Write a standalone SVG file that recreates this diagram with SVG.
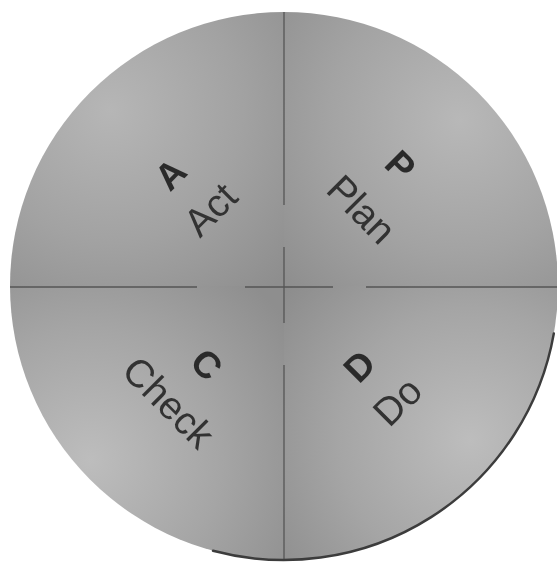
<svg xmlns="http://www.w3.org/2000/svg" width="557" height="565" viewBox="0 0 557 565">
  <defs>
    <radialGradient id="gTL" gradientUnits="userSpaceOnUse" cx="110" cy="110" r="240">
      <stop offset="0" stop-color="#b6b6b6"/>
      <stop offset="0.55" stop-color="#a2a2a2"/>
      <stop offset="1" stop-color="#8e8e8e"/>
    </radialGradient>
    <radialGradient id="gTR" gradientUnits="userSpaceOnUse" cx="460" cy="120" r="240">
      <stop offset="0" stop-color="#b8b8b8"/>
      <stop offset="0.55" stop-color="#a3a3a3"/>
      <stop offset="1" stop-color="#8e8e8e"/>
    </radialGradient>
    <radialGradient id="gBL" gradientUnits="userSpaceOnUse" cx="90" cy="460" r="240">
      <stop offset="0" stop-color="#bdbdbd"/>
      <stop offset="0.55" stop-color="#a5a5a5"/>
      <stop offset="1" stop-color="#8e8e8e"/>
    </radialGradient>
    <radialGradient id="gBR" gradientUnits="userSpaceOnUse" cx="470" cy="440" r="240">
      <stop offset="0" stop-color="#bdbdbd"/>
      <stop offset="0.55" stop-color="#a5a5a5"/>
      <stop offset="1" stop-color="#8c8c8c"/>
    </radialGradient>
    <filter id="soft" x="-5%" y="-5%" width="110%" height="110%">
      <feGaussianBlur stdDeviation="0.6"/>
    </filter>
  </defs>
  <style>
    .div { stroke: #555555; stroke-width: 1.3; fill: none; }
    .rim { stroke: #3c3c3c; stroke-width: 2.5; fill: none; stroke-linecap: round; }
    .big { font-family: "Liberation Sans", Arial, sans-serif; font-weight: bold; font-size: 37px; fill: #2c2c2c; text-anchor: middle; }
    .word { font-family: "Liberation Sans", Arial, sans-serif; font-size: 39px; fill: #333333; text-anchor: middle; }
  </style>
  <rect width="557" height="565" fill="#ffffff"/>

  <g id="quadrant-act">
    <path d="M284 286 L10 286 A274 274 0 0 1 284 12 Z" fill="url(#gTL)"/>
  </g>
  <g id="quadrant-plan">
    <path d="M284 286 L284 12 A274 274 0 0 1 558 286 Z" fill="url(#gTR)"/>
  </g>
  <g id="quadrant-do">
    <path d="M284 286 L558 286 A274 274 0 0 1 284 560 Z" fill="url(#gBR)"/>
  </g>
  <g id="quadrant-check">
    <path d="M284 286 L284 560 A274 274 0 0 1 10 286 Z" fill="url(#gBL)"/>
  </g>

  <g id="dividers">
    <line class="div" x1="10" y1="287" x2="197" y2="287"/>
    <line class="div" x1="245" y1="287" x2="333" y2="287"/>
    <line class="div" x1="366" y1="287" x2="558" y2="287"/>
    <line class="div" x1="284" y1="12" x2="284" y2="205"/>
    <line class="div" x1="284" y1="247" x2="284" y2="323"/>
    <line class="div" x1="284" y1="365" x2="284" y2="560"/>
  </g>

  <g id="rim">
    <path class="rim" d="M553.8 333.6 A274 274 0 0 1 213 550.7"/>
  </g>

  <g id="labels" filter="url(#soft)">
    <g id="act">
      <text class="big" transform="translate(170,174) rotate(-45)" dy="0.36em">A</text>
      <text class="word" transform="translate(210,209) rotate(-45)" dy="0.36em">Act</text>
    </g>
    <g id="plan">
      <text class="big" transform="translate(401,165) rotate(45)" dy="0.36em">P</text>
      <text class="word" transform="translate(362,209) rotate(45)" dy="0.36em">Plan</text>
    </g>
    <g id="check">
      <text class="big" transform="translate(207,364) rotate(45)" dy="0.36em">C</text>
      <text class="word" transform="translate(169,402) rotate(45)" dy="0.36em">Check</text>
    </g>
    <g id="do">
      <text class="big" transform="translate(359,366) rotate(-45)" dy="0.36em">D</text>
      <text class="word" transform="translate(397,401) rotate(-45)" dy="0.36em">Do</text>
    </g>
  </g>
</svg>
